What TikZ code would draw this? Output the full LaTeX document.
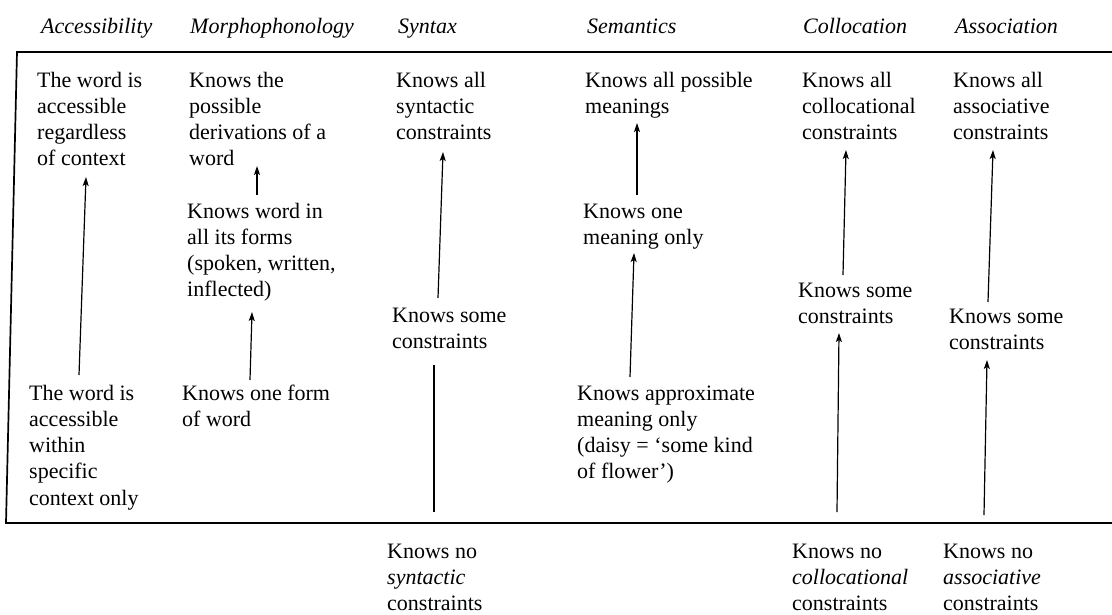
\documentclass[tikz,border=0pt]{standalone}
\usepackage{fontspec}
\setmainfont{Liberation Serif}
\usetikzlibrary{arrows.meta}
\newcommand\celltext[1]{\begin{tabular}[t]{@{}l@{}}#1\end{tabular}}
\begin{document}
\begin{tikzpicture}[x=1pt,y=-1pt,
  txt/.style={anchor=base west,inner sep=0pt,font=\fontsize{22}{26.3}\selectfont},
  hdr/.style={txt,font=\fontsize{22}{26.3}\selectfont\itshape},
  arr/.style={line width=1.2pt,-{Stealth[length=9pt,width=6pt,inset=2pt]}},
  plain/.style={line width=1.2pt},
  boxline/.style={line width=1.7pt}]
\useasboundingbox[fill=white] (0,0) rectangle (1112,614);
% headers
\node[hdr] (h1) at (41,33) {Accessibility};
\node[hdr] (h2) at (190,33) {Morphophonology};
\node[hdr] (h3) at (398,33) {Syntax};
\node[hdr] (h4) at (587,33) {Semantics};
\node[hdr] (h5) at (803,33) {Collocation};
\node[hdr] (h6) at (955,33) {Association};
% frame
\draw[boxline] (1112,52) -- (17,52) -- (6,523) -- (1112,523);
% accessibility
\node[txt] (a1) at (37,87) {\celltext{The word is\\accessible\\regardless\\of context}};
\node[txt] (a2) at (29,400) {\celltext{The word is\\accessible\\within\\specific\\context only}};
% morphophonology
\node[txt] (m1) at (189,87) {\celltext{Knows the\\possible\\derivations of a\\word}};
\node[txt] (m2) at (187,218) {\celltext{Knows word in\\all its forms\\(spoken, written,\\inflected)}};
\node[txt] (m3) at (182,400) {\celltext{Knows one form\\of word}};
% syntax
\node[txt] (s1) at (396,87) {\celltext{Knows all\\syntactic\\constraints}};
\node[txt] (s2) at (392,322) {\celltext{Knows some\\constraints}};
\node[txt] (s3) at (387,558) {\celltext{Knows no\\\textit{syntactic}\\constraints}};
% semantics
\node[txt] (e1) at (585,87) {\celltext{Knows all possible\\meanings}};
\node[txt] (e2) at (583,218) {\celltext{Knows one\\meaning only}};
\node[txt] (e3) at (577,400) {\celltext{Knows approximate\\meaning only\\(daisy = ‘some kind\\of flower’)}};
% collocation
\node[txt] (c1) at (802,87) {\celltext{Knows all\\collocational\\constraints}};
\node[txt] (c2) at (798,297) {\celltext{Knows some\\constraints}};
\node[txt] (c3) at (792,558) {\celltext{Knows no\\\textit{collocational}\\constraints}};
% association
\node[txt] (o1) at (953,87) {\celltext{Knows all\\associative\\constraints}};
\node[txt] (o2) at (949,323) {\celltext{Knows some\\constraints}};
\node[txt] (o3) at (943,558) {\celltext{Knows no\\\textit{associative}\\constraints}};
% arrow end points
\coordinate (aB) at (79,375);  \coordinate (aT) at (86,177);
\coordinate (mB1) at (257,195); \coordinate (mT1) at (257,166);
\coordinate (mB2) at (250,380); \coordinate (mT2) at (252,312);
\coordinate (sB1) at (438,298); \coordinate (sT1) at (443,152);
\coordinate (sB2) at (434,512); \coordinate (sT2) at (434,365);
\coordinate (eB1) at (637,195); \coordinate (eT1) at (637,123);
\coordinate (eB2) at (630,377); \coordinate (eT2) at (634,253);
\coordinate (cB1) at (843,275); \coordinate (cT1) at (846,150);
\coordinate (cB2) at (837,512); \coordinate (cT2) at (839,333);
\coordinate (oB1) at (988,302); \coordinate (oT1) at (993,150);
\coordinate (oB2) at (984,515); \coordinate (oT2) at (987,360);
\draw[arr] (aB) -- (aT);
\draw[arr] (mB1) -- (mT1);
\draw[arr] (mB2) -- (mT2);
\draw[arr] (sB1) -- (sT1);
\draw[plain] (sB2) -- (sT2);
\draw[arr] (eB1) -- (eT1);
\draw[arr] (eB2) -- (eT2);
\draw[arr] (cB1) -- (cT1);
\draw[arr] (cB2) -- (cT2);
\draw[arr] (oB1) -- (oT1);
\draw[arr] (oB2) -- (oT2);
\end{tikzpicture}
\end{document}
